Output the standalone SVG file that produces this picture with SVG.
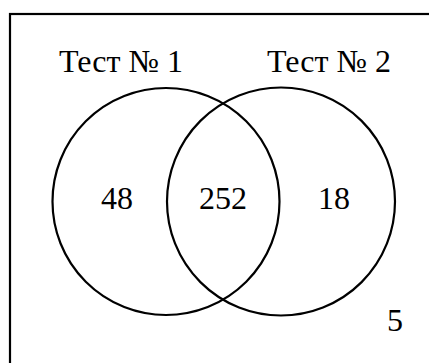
<svg xmlns="http://www.w3.org/2000/svg" width="429" height="363" viewBox="0 0 429 363">
<style>
.c{fill:none;stroke:#000;stroke-width:2.2}
.t{font-family:"Liberation Serif","Times New Roman",serif;font-size:32px;fill:#000}
</style>
<rect width="429" height="363" fill="#fff"/>
<g id="frame"><rect x="10" y="14" width="440" height="380" fill="none" stroke="#000" stroke-width="2.2"/></g>
<g id="set1"><circle class="c" cx="166" cy="201.5" r="113.5"/><text class="t" x="59" y="72">Тест № 1</text></g>
<g id="set2"><circle class="c" cx="281" cy="201.5" r="114"/><text class="t" x="267" y="72">Тест № 2</text></g>
<g id="connectors"></g>
<g id="labels">
<text class="t" x="101" y="209">48</text>
<text class="t" x="199" y="209">252</text>
<text class="t" x="318" y="209">18</text>
<text class="t" x="387" y="331">5</text>
</g>
</svg>
